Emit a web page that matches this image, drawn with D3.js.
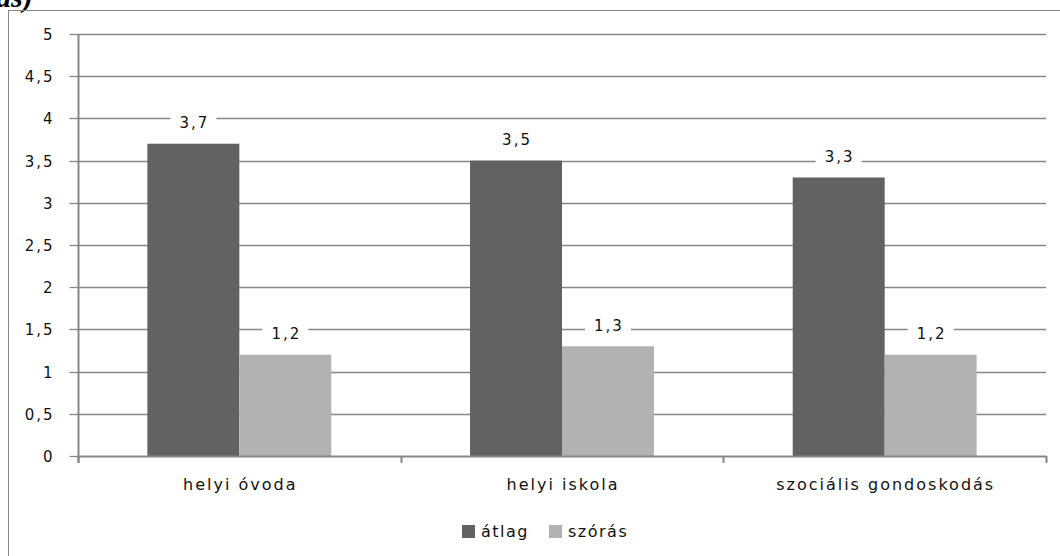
<!DOCTYPE html>
<html>
<head>
<meta charset="utf-8">
<script src="https://cdn.jsdelivr.net/npm/d3@7"></script>
<style>
html, body { margin: 0; padding: 0; background: #fff; }
svg { display: block; }
text { font-family: "DejaVu Sans", sans-serif; }
</style>
</head>
<body>
<svg id="chart" width="1060" height="556"></svg>
<script>
const categories = ["helyi óvoda", "helyi iskola", "szociális gondoskodás"];
const seriesNames = ["átlag", "szórás"];
const atlagValues = [3.7, 3.5, 3.3];
const szorasValues = [1.2, 1.3, 1.2];
const yTicks = [0, 0.5, 1, 1.5, 2, 2.5, 3, 3.5, 4, 4.5, 5];
const seriesColors = ["#626262", "#b2b2b2"];

const seriesValues = [atlagValues, szorasValues];
const svg = d3.select("#chart");
const plot = { left: 78, right: 1046, top: 34, bottom: 456 };
const gridColor = "#878787";
const textColor = "#111";

const loc = d3.formatLocale({ decimal: ",", thousands: " ", grouping: [3], currency: ["", ""] });
const fmt = v => loc.format(",.1~f")(v);

// Cropped heading above the chart
svg.append("text")
  .attr("x", -4).attr("y", 7)
  .style("font-family", "'Liberation Serif', serif")
  .style("font-weight", "bold").style("font-style", "italic")
  .style("font-size", "30px")
  .text("as)");

// Outer chart border
svg.append("rect")
  .attr("x", 8.5).attr("y", 10.5)
  .attr("width", 1200).attr("height", 700)
  .attr("fill", "none").attr("stroke", gridColor).attr("stroke-width", 1);

const y = d3.scaleLinear().domain([0, 5]).range([plot.bottom, plot.top]);
const x0 = d3.scaleBand().domain(categories).range([plot.left, plot.right])
  .paddingInner(0.43).paddingOuter(0.215);
const x1 = d3.scaleBand().domain(seriesNames).range([0, x0.bandwidth()]).padding(0);

// gridlines
svg.append("g").selectAll("line")
  .data(yTicks.filter(t => t > 0))
  .join("line")
  .attr("x1", plot.left).attr("x2", plot.right)
  .attr("y1", d => Math.round(y(d)) + 0.5).attr("y2", d => Math.round(y(d)) + 0.5)
  .attr("stroke", gridColor).attr("stroke-width", 1.3);

// y axis
const yAxis = d3.axisLeft(y).tickValues(yTicks).tickFormat(fmt).tickSize(9).tickPadding(15);
const gy = svg.append("g").attr("transform", `translate(${plot.left + 0.5},0)`).call(yAxis);
gy.select(".domain").remove();
gy.selectAll(".tick line").attr("stroke", gridColor).attr("stroke-width", 1.3);
gy.selectAll(".tick text")
  .style("font-size", "15px").style("font-family", "'DejaVu Sans', sans-serif")
  .style("letter-spacing", "2px")
  .attr("fill", textColor).attr("dy", "0.35em");
gy.selectAll(".tick").attr("transform", d => `translate(0,${Math.round(y(d)) + 0.5})`);
svg.append("line")
  .attr("x1", plot.left + 0.5).attr("x2", plot.left + 0.5)
  .attr("y1", plot.top).attr("y2", plot.bottom + 7)
  .attr("stroke", gridColor).attr("stroke-width", 2);

// bars
const groups = svg.append("g").selectAll("g")
  .data(categories)
  .join("g")
  .attr("transform", d => `translate(${x0(d)},0)`);

groups.selectAll("rect")
  .data((c, i) => seriesNames.map((s, j) => ({ s, j, v: seriesValues[j][i] })))
  .join("rect")
  .attr("x", d => x1(d.s))
  .attr("width", x1.bandwidth())
  .attr("y", d => y(d.v))
  .attr("height", d => y(0) - y(d.v))
  .attr("fill", d => seriesColors[d.j]);

// value labels with white background
const labels = groups.selectAll("g.lbl")
  .data((c, i) => seriesNames.map((s, j) => ({ s, j, v: seriesValues[j][i] })))
  .join("g").attr("class", "lbl")
  .attr("transform", d => `translate(${x1(d.s) + x1.bandwidth() / 2},${y(d.v) - 21})`);
labels.append("rect")
  .attr("x", -23).attr("y", -11).attr("width", 46).attr("height", 22)
  .attr("fill", "#fff");
labels.append("text")
  .attr("x", 1)
  .attr("text-anchor", "middle").attr("dy", "0.35em")
  .style("font-size", "15px").style("letter-spacing", "2px").attr("fill", textColor)
  .text(d => fmt(d.v));

// x axis
svg.append("line")
  .attr("x1", plot.left).attr("x2", plot.right + 0.5)
  .attr("y1", plot.bottom + 0.5).attr("y2", plot.bottom + 0.5)
  .attr("stroke", gridColor).attr("stroke-width", 2);
const boundaries = d3.range(categories.length + 1).map(i => plot.left + i * x0.step());
svg.append("g").selectAll("line")
  .data(boundaries)
  .join("line")
  .attr("x1", d => Math.round(d) + 0.5).attr("x2", d => Math.round(d) + 0.5)
  .attr("y1", plot.bottom).attr("y2", plot.bottom + 7)
  .attr("stroke", gridColor).attr("stroke-width", 2);

svg.append("g").selectAll("text")
  .data(categories)
  .join("text")
  .attr("x", d => x0(d) + x0.bandwidth() / 2 + 1)
  .attr("y", 490)
  .attr("text-anchor", "middle")
  .style("font-size", "16px").style("letter-spacing", "2px").attr("fill", textColor)
  .text(d => d);

// legend
const legendItems = [{ x: 462 }, { x: 549 }];
const lg = svg.append("g").selectAll("g")
  .data(seriesNames)
  .join("g")
  .attr("transform", (d, i) => `translate(${legendItems[i].x},525)`);
lg.append("rect").attr("width", 13).attr("height", 13).attr("fill", (d, i) => seriesColors[i]);
lg.append("text").attr("x", 19).attr("y", 12)
  .style("font-size", "16px").style("letter-spacing", "1.5px").attr("fill", textColor)
  .text(d => d);
</script>
</body>
</html>
